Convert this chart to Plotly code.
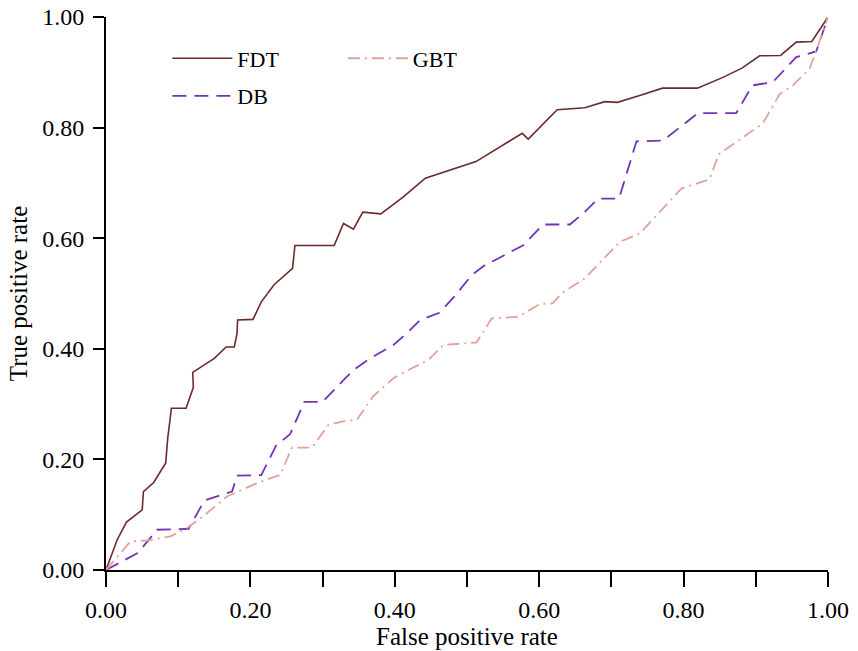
import plotly.graph_objects as go

# ROC curves
fdt_fpr = [0.0, 0.0155, 0.0284, 0.0501, 0.0519, 0.0661, 0.0827, 0.0855, 0.0906, 0.1109, 0.1210, 0.1201,
           0.1501, 0.1663, 0.1777, 0.1815, 0.1823, 0.2036, 0.2151, 0.2331, 0.2584, 0.2617, 0.3160, 0.3289,
           0.3427, 0.3557, 0.3806, 0.4119, 0.4423, 0.5124, 0.5765, 0.5848, 0.6249, 0.6632, 0.6909, 0.7084,
           0.7393, 0.7707, 0.8191, 0.8545, 0.8808, 0.9053, 0.9343, 0.9560, 0.9776, 1.0]
fdt_tpr = [0.0, 0.0547, 0.0867, 0.1089, 0.1419, 0.1582, 0.1937, 0.2384, 0.2925, 0.2925, 0.3304, 0.3575,
           0.3828, 0.4032, 0.4032, 0.4280, 0.4520, 0.4532, 0.4850, 0.5164, 0.5453, 0.5869, 0.5869, 0.6266,
           0.6163, 0.6470, 0.6439, 0.6746, 0.7084, 0.7385, 0.7897, 0.7793, 0.8324, 0.8360, 0.8469, 0.8456,
           0.8582, 0.8714, 0.8714, 0.8908, 0.9075, 0.9299, 0.9305, 0.9545, 0.9558, 1.0]

db_fpr = [0.0, 0.0224, 0.0440, 0.0708, 0.1145, 0.1362, 0.1746, 0.1815, 0.2151, 0.2354, 0.2552, 0.2746,
          0.2999, 0.3313, 0.3427, 0.3658, 0.3981, 0.4166, 0.4350, 0.4617, 0.4834, 0.5065, 0.5249, 0.5433,
          0.5779, 0.6055, 0.6425, 0.6632, 0.6816, 0.7106, 0.7347, 0.7715, 0.8199, 0.8730, 0.8952, 0.9236,
          0.9560, 0.9837, 1.0]
db_tpr = [0.0, 0.0155, 0.0307, 0.0728, 0.0746, 0.1257, 0.1419, 0.1708, 0.1715, 0.2245, 0.2461, 0.3039,
          0.3039, 0.3467, 0.3617, 0.3828, 0.4068, 0.4280, 0.4520, 0.4652, 0.4958, 0.5332, 0.5513, 0.5634,
          0.5874, 0.6248, 0.6248, 0.6475, 0.6717, 0.6717, 0.7752, 0.7765, 0.8263, 0.8263, 0.8763, 0.8823,
          0.9274, 0.9377, 1.0]

gbt_fpr = [0.0, 0.0339, 0.0570, 0.0892, 0.1145, 0.1353, 0.1676, 0.2091, 0.2414, 0.2575, 0.2852, 0.3082,
           0.3313, 0.3474, 0.3704, 0.3981, 0.4188, 0.4465, 0.4672, 0.5134, 0.5342, 0.5710, 0.6010, 0.6185,
           0.6324, 0.6632, 0.7116, 0.7393, 0.7970, 0.8361, 0.8486, 0.9098, 0.9329, 0.9513, 0.9744, 0.9813, 1.0]
gbt_tpr = [0.0, 0.0516, 0.0534, 0.0607, 0.0776, 0.0980, 0.1329, 0.1571, 0.1721, 0.2214, 0.2214, 0.2624,
           0.2696, 0.2714, 0.3147, 0.3467, 0.3617, 0.3797, 0.4068, 0.4117, 0.4550, 0.4579, 0.4809, 0.4821,
           0.5013, 0.5273, 0.5934, 0.6085, 0.6898, 0.7066, 0.7517, 0.8077, 0.8601, 0.8763, 0.9065, 0.9305, 1.0]

x_title = "False positive rate"
y_title = "True positive rate"

FONT = "Liberation Serif, Times New Roman, serif"

fig = go.Figure()
fig.add_trace(go.Scatter(x=fdt_fpr, y=fdt_tpr, mode="lines", name="FDT", legend="legend",
                         legendgroup="a", line=dict(color="#6b2b2b", width=1.6)))
fig.add_trace(go.Scatter(x=db_fpr, y=db_tpr, mode="lines", name="DB", legend="legend",
                         legendgroup="b", line=dict(color="#7334b4", width=1.8, dash="14px,8px")))
fig.add_trace(go.Scatter(x=gbt_fpr, y=gbt_tpr, mode="lines", name="GBT", legend="legend2",
                         legendgroup="c", line=dict(color="#e0a39a", width=1.8, dash="12px,5px,2px,5px")))

fig.update_layout(
    width=858, height=651,
    margin=dict(l=105.5, r=29.5, t=16.5, b=80.7, autoexpand=False),
    paper_bgcolor="white", plot_bgcolor="white",
    font=dict(family=FONT, size=24, color="black"),
    legend=dict(x=0.085, y=0.963, xanchor="left", yanchor="top", bgcolor="rgba(0,0,0,0)",
                font=dict(size=22), itemwidth=60, tracegroupgap=6, traceorder="grouped"),
    legend2=dict(x=0.328, y=0.963, xanchor="left", yanchor="top", bgcolor="rgba(0,0,0,0)",
                 font=dict(size=22), itemwidth=60),
    showlegend=True,
    annotations=[dict(text=x_title, xref="paper", yref="paper", x=0.5, y=0, xanchor="center",
                      yanchor="top", yshift=-51, showarrow=False, font=dict(size=25))],
)
fig.update_xaxes(
    range=[0, 1], dtick=0.2, tick0=0, tickformat=".2f", showgrid=False, zeroline=False,
    showline=True, linecolor="black", linewidth=2, ticks="outside", ticklen=15, tickwidth=2,
    tickcolor="black", ticklabelstandoff=2, automargin=False, ticklabeloverflow="allow",
    minor=dict(dtick=0.1, tick0=0, ticks="outside", ticklen=15, tickwidth=2, tickcolor="black", showgrid=False),
)
fig.update_yaxes(
    range=[0, 1], dtick=0.2, tick0=0, tickformat=".2f", showgrid=False, zeroline=False,
    showline=True, linecolor="black", linewidth=2, ticks="outside", ticklen=11, tickwidth=2,
    tickcolor="black", ticklabelstandoff=4, automargin=False, ticklabeloverflow="allow",
    title=dict(text=y_title, standoff=7, font=dict(size=25)),
)

# remove the browser's default 8px body margin so the figure fills the window exactly
fig.write_html("out.html", config={"displayModeBar": False},
               post_script="document.body.style.margin='0';")
